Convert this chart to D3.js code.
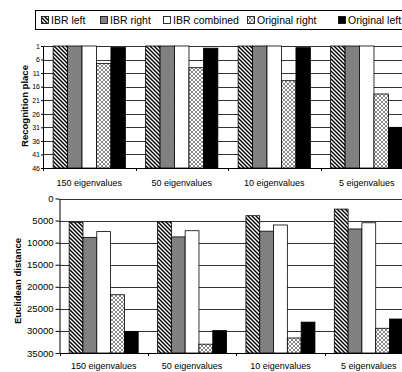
<!DOCTYPE html>
<html>
<head>
<meta charset="utf-8">
<script src="https://d3js.org/d3.v7.min.js"></script>
<style>
  body { margin: 0; background: #fff; }
  svg { display: block; font-family: "Liberation Sans", Arial, sans-serif; }
</style>
</head>
<body>
<div id="chart"></div>
<script>
// categories and series
var categories = ["150 eigenvalues", "50 eigenvalues", "10 eigenvalues", "5 eigenvalues"];
var seriesNames = ["IBR left", "IBR right", "IBR combined", "Original right", "Original left"];

// recognition place (top panel)
var placeIbrLeft = [1, 1, 1, 1];
var placeIbrRight = [1, 1, 1, 1];
var placeIbrCombined = [1, 1, 1, 1];
var placeOrigRight = [7.4, 9, 13.8, 18.7];
var placeOrigLeft = [1.5, 1.8, 1.6, 31];

// euclidean distance (bottom panel)
var distIbrLeft = [5400, 5300, 3900, 2400];
var distIbrRight = [8800, 8700, 7400, 6900];
var distIbrCombined = [7500, 7300, 6000, 5500];
var distOrigRight = [21800, 33000, 31600, 29400];
var distOrigLeft = [30100, 29900, 28000, 27300];

var placeTicks = [1, 6, 11, 16, 21, 26, 31, 36, 41, 46];
var distTicks = [0, 5000, 10000, 15000, 20000, 25000, 30000, 35000];

var W = 402, H = 372;
var svg = d3.select("#chart").append("svg")
  .attr("width", W).attr("height", H);

// fill patterns
var defs = svg.append("defs");
var hatch = defs.append("pattern").attr("id", "hatch")
  .attr("patternUnits", "userSpaceOnUse").attr("width", 4).attr("height", 4);
hatch.append("rect").attr("width", 4).attr("height", 4).attr("fill", "#fff");
hatch.append("path").attr("d", "M-1,-1L5,5M-1,3L1,5M3,-1L5,1")
  .attr("stroke", "#000").attr("stroke-width", 1.4);

var cross = defs.append("pattern").attr("id", "cross")
  .attr("patternUnits", "userSpaceOnUse").attr("width", 4).attr("height", 4);
cross.append("rect").attr("width", 4).attr("height", 4).attr("fill", "#fff");
cross.append("path").attr("d", "M0,0L4,4M4,0L0,4")
  .attr("stroke", "#555").attr("stroke-width", 0.7);

var fills = ["url(#hatch)", "#808080", "#ffffff", "url(#cross)", "#000000"];

// legend
var legend = svg.append("g");
legend.append("rect").attr("x", 35.5).attr("y", 10.5).attr("width", 400).attr("height", 19)
  .attr("fill", "#fff").attr("stroke", "#000").attr("stroke-width", 1);
var legendX = [41, 100, 163, 247, 338];
seriesNames.forEach(function(name, i) {
  legend.append("rect").attr("x", legendX[i] + 0.5).attr("y", 16.5)
    .attr("width", 7).attr("height", 7)
    .attr("fill", fills[i]).attr("stroke", "#000").attr("stroke-width", 0.8);
  legend.append("text").attr("x", legendX[i] + 10).attr("y", 24)
    .style("font-size", "10.5px").text(name);
});

function drawPanel(opt) {
  var g = svg.append("g");
  var x = d3.scaleBand().domain(categories).range([opt.left, 413]);
  var inner = d3.scaleBand().domain(seriesNames).range([0, x.bandwidth()])
    .paddingInner(0).paddingOuter(0.7);
  var y = d3.scaleLinear().domain(opt.domain).range([opt.top, opt.bottom]);

  // gridlines
  g.selectAll(".grid").data(opt.ticks).enter().append("line")
    .attr("x1", opt.left).attr("x2", 413)
    .attr("y1", function(d) { return Math.round(y(d)) + 0.5; })
    .attr("y2", function(d) { return Math.round(y(d)) + 0.5; })
    .attr("stroke", "#000").attr("stroke-width", 0.8);

  // bars grow from the bottom of the (reversed) axis
  opt.series.forEach(function(vals, si) {
    g.selectAll(".b" + si).data(vals).enter().append("rect")
      .attr("x", function(d, i) { return x(categories[i]) + inner(seriesNames[si]); })
      .attr("width", inner.bandwidth())
      .attr("y", function(d) { return y(d); })
      .attr("height", function(d) { return y(opt.domain[1]) - y(d); })
      .attr("fill", fills[si])
      .attr("stroke", "#000").attr("stroke-width", 0.8);
  });

  // y axis
  var yAxis = g.append("g")
    .attr("transform", "translate(" + opt.left + ",0)")
    .call(d3.axisLeft(y).tickValues(opt.ticks).tickFormat(d3.format("d"))
      .tickSize(opt.tickSize).tickPadding(opt.tickPad).tickSizeOuter(0));
  yAxis.selectAll("text").style("font-size", opt.tickFont).attr("fill", "#000")
    .style("font-family", "'Liberation Sans', Arial, sans-serif");

  // x axis
  var xAxis = g.append("g")
    .attr("transform", "translate(0," + opt.bottom + ")")
    .call(d3.axisBottom(x).tickSize(0).tickPadding(opt.catPad).tickSizeOuter(0));
  xAxis.selectAll("text").style("font-size", "9px").attr("fill", "#000")
    .style("font-family", "'Liberation Sans', Arial, sans-serif");
  // category boundary ticks
  g.selectAll(".ctick").data(categories).enter().append("line")
    .attr("x1", function(d) { return Math.round(x(d)) + 0.5; })
    .attr("x2", function(d) { return Math.round(x(d)) + 0.5; })
    .attr("y1", opt.bottom).attr("y2", opt.bottom + 3)
    .attr("stroke", "#000");

  // axis title
  g.append("text")
    .attr("transform", "translate(" + opt.titleX + "," + opt.titleY + ") rotate(-90)")
    .attr("text-anchor", "middle")
    .style("font-size", "9.5px").style("font-weight", "bold")
    .text(opt.title);
}

drawPanel({
  left: 43, top: 46, bottom: 168,
  domain: [1, 46], ticks: placeTicks,
  series: [placeIbrLeft, placeIbrRight, placeIbrCombined, placeOrigRight, placeOrigLeft],
  tickSize: 2, tickPad: 1, tickFont: "7px", catPad: 12,
  title: "Recognition place", titleX: 28, titleY: 106
});

drawPanel({
  left: 59.5, top: 198.5, bottom: 353,
  domain: [0, 35000], ticks: distTicks,
  series: [distIbrLeft, distIbrRight, distIbrCombined, distOrigRight, distOrigLeft],
  tickSize: 4, tickPad: 2, tickFont: "9.5px", catPad: 10,
  title: "Euclidean distance", titleX: 21, titleY: 281
});
</script>
</body>
</html>
